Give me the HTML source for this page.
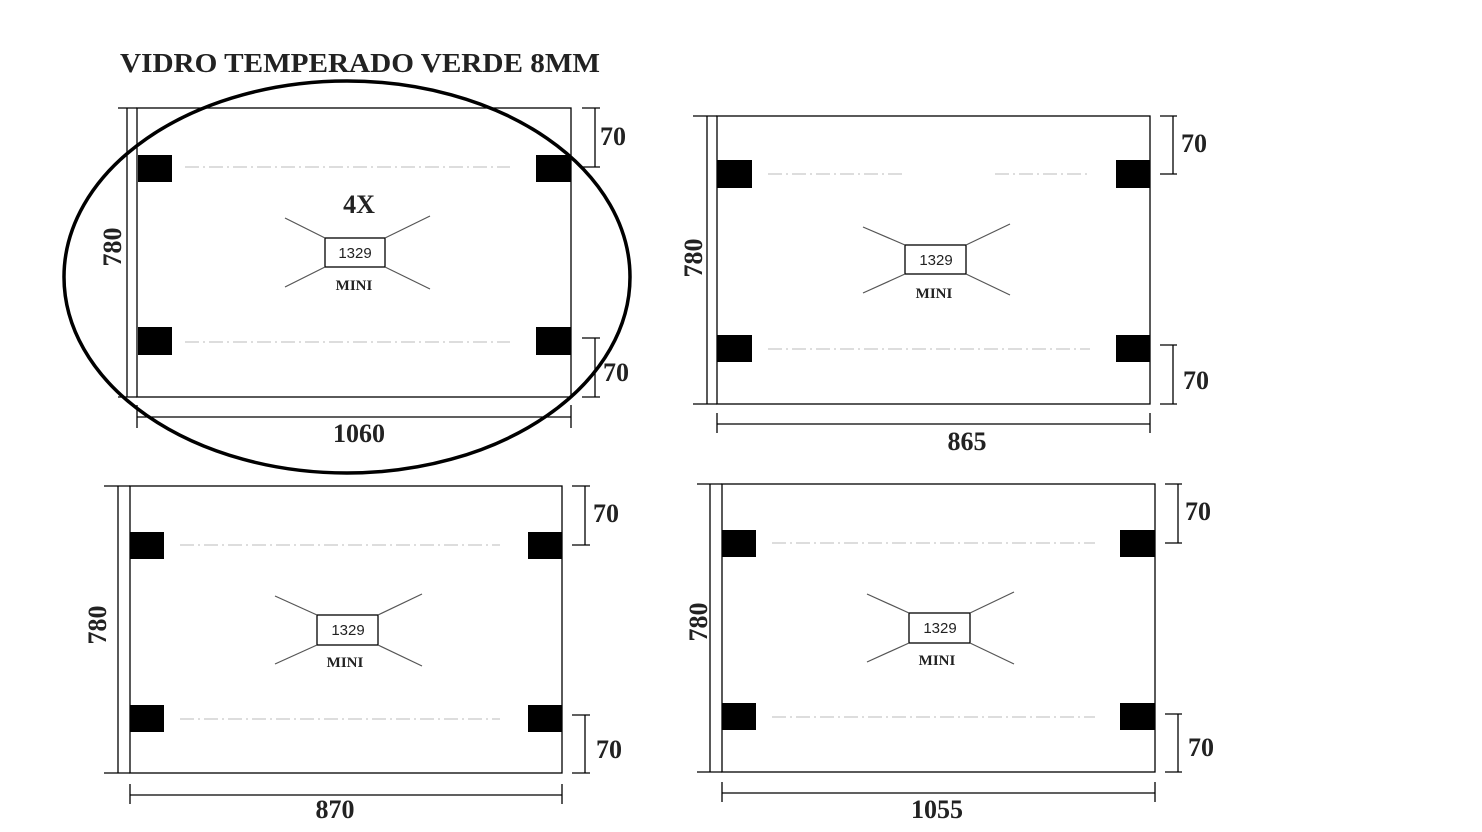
<!DOCTYPE html>
<html><head><meta charset="utf-8"><style>html,body{margin:0;padding:0;background:#fff}svg{display:block}</style></head>
<body>
<svg width="1482" height="832" viewBox="0 0 1482 832" xmlns="http://www.w3.org/2000/svg" font-family="Liberation Serif, serif">
<rect width="1482" height="832" fill="#fff"/>
<text x="120" y="72" font-size="27" font-weight="bold" fill="#222" textLength="480" lengthAdjust="spacingAndGlyphs">VIDRO TEMPERADO VERDE 8MM</text>

<g stroke="#000" stroke-width="1.3" fill="none">
<!-- panel 1 -->
<rect x="137" y="108" width="434" height="289"/>
<line x1="127" y1="108" x2="127" y2="397"/><line x1="118" y1="108" x2="137" y2="108"/><line x1="118" y1="397" x2="137" y2="397"/>
<line x1="137" y1="417" x2="571" y2="417"/><line x1="137" y1="405" x2="137" y2="428"/><line x1="571" y1="405" x2="571" y2="428"/>
<line x1="595" y1="108" x2="595" y2="167"/><line x1="582" y1="108" x2="600" y2="108"/><line x1="582" y1="167" x2="600" y2="167"/>
<line x1="595" y1="338" x2="595" y2="397"/><line x1="582" y1="338" x2="600" y2="338"/><line x1="582" y1="397" x2="600" y2="397"/>
<rect x="325" y="238" width="60" height="29"/>
<!-- panel 2 -->
<rect x="717" y="116" width="433" height="288"/>
<line x1="707" y1="116" x2="707" y2="404"/><line x1="693" y1="116" x2="717" y2="116"/><line x1="693" y1="404" x2="717" y2="404"/>
<line x1="717" y1="424" x2="1150" y2="424"/><line x1="717" y1="413" x2="717" y2="433"/><line x1="1150" y1="413" x2="1150" y2="433"/>
<line x1="1173" y1="116" x2="1173" y2="174"/><line x1="1160" y1="116" x2="1177" y2="116"/><line x1="1160" y1="174" x2="1177" y2="174"/>
<line x1="1173" y1="345" x2="1173" y2="404"/><line x1="1160" y1="345" x2="1177" y2="345"/><line x1="1160" y1="404" x2="1177" y2="404"/>
<rect x="905" y="245" width="61" height="29"/>
<!-- panel 3 -->
<rect x="130" y="486" width="432" height="287"/>
<line x1="118" y1="486" x2="118" y2="773"/><line x1="104" y1="486" x2="130" y2="486"/><line x1="104" y1="773" x2="130" y2="773"/>
<line x1="130" y1="795" x2="562" y2="795"/><line x1="130" y1="784" x2="130" y2="804"/><line x1="562" y1="784" x2="562" y2="804"/>
<line x1="585" y1="486" x2="585" y2="545"/><line x1="572" y1="486" x2="590" y2="486"/><line x1="572" y1="545" x2="590" y2="545"/>
<line x1="585" y1="715" x2="585" y2="773"/><line x1="572" y1="715" x2="590" y2="715"/><line x1="572" y1="773" x2="590" y2="773"/>
<rect x="317" y="615" width="61" height="30"/>
<!-- panel 4 -->
<rect x="722" y="484" width="433" height="288"/>
<line x1="710" y1="484" x2="710" y2="772"/><line x1="697" y1="484" x2="722" y2="484"/><line x1="697" y1="772" x2="722" y2="772"/>
<line x1="722" y1="793" x2="1155" y2="793"/><line x1="722" y1="782" x2="722" y2="802"/><line x1="1155" y1="782" x2="1155" y2="802"/>
<line x1="1178" y1="484" x2="1178" y2="543"/><line x1="1165" y1="484" x2="1182" y2="484"/><line x1="1165" y1="543" x2="1182" y2="543"/>
<line x1="1178" y1="714" x2="1178" y2="772"/><line x1="1165" y1="714" x2="1182" y2="714"/><line x1="1165" y1="772" x2="1182" y2="772"/>
<rect x="909" y="613" width="61" height="30"/>
</g>

<g stroke="#555" stroke-width="1.2">
<line x1="285" y1="218" x2="325" y2="238"/><line x1="430" y1="216" x2="385" y2="238"/><line x1="285" y1="287" x2="325" y2="267"/><line x1="430" y1="289" x2="385" y2="267"/>
<line x1="863" y1="227" x2="905" y2="245"/><line x1="1010" y1="224" x2="966" y2="245"/><line x1="863" y1="293" x2="905" y2="274"/><line x1="1010" y1="295" x2="966" y2="274"/>
<line x1="275" y1="596" x2="317" y2="615"/><line x1="422" y1="594" x2="378" y2="615"/><line x1="275" y1="664" x2="317" y2="645"/><line x1="422" y1="666" x2="378" y2="645"/>
<line x1="867" y1="594" x2="909" y2="613"/><line x1="1014" y1="592" x2="970" y2="613"/><line x1="867" y1="662" x2="909" y2="643"/><line x1="1014" y1="664" x2="970" y2="643"/>
</g>

<g stroke="#bbb" stroke-width="1" stroke-dasharray="14 4 2 4">
<line x1="185" y1="167" x2="510" y2="167"/><line x1="185" y1="342" x2="510" y2="342"/>
<line x1="768" y1="174" x2="905" y2="174"/><line x1="995" y1="174" x2="1087" y2="174"/><line x1="768" y1="349" x2="1090" y2="349"/>
<line x1="180" y1="545" x2="500" y2="545"/><line x1="180" y1="719" x2="500" y2="719"/>
<line x1="772" y1="543" x2="1095" y2="543"/><line x1="772" y1="717" x2="1095" y2="717"/>
</g>

<g fill="#000">
<rect x="138" y="155" width="34" height="27"/><rect x="536" y="155" width="35" height="27"/><rect x="138" y="327" width="34" height="28"/><rect x="536" y="327" width="35" height="28"/>
<rect x="717" y="160" width="35" height="28"/><rect x="1116" y="160" width="34" height="28"/><rect x="717" y="335" width="35" height="27"/><rect x="1116" y="335" width="34" height="27"/>
<rect x="130" y="532" width="34" height="27"/><rect x="528" y="532" width="34" height="27"/><rect x="130" y="705" width="34" height="27"/><rect x="528" y="705" width="34" height="27"/>
<rect x="722" y="530" width="34" height="27"/><rect x="1120" y="530" width="35" height="27"/><rect x="722" y="703" width="34" height="27"/><rect x="1120" y="703" width="35" height="27"/>
</g>

<ellipse cx="347" cy="277" rx="283" ry="196" fill="none" stroke="#000" stroke-width="3.5"/>

<g font-weight="bold" fill="#222" font-size="26" text-anchor="middle">
<text x="359" y="442">1060</text><text x="967" y="450">865</text><text x="335" y="818">870</text><text x="937" y="818">1055</text>
<text x="359" y="213">4X</text>
<g text-anchor="start"><text x="600" y="145">70</text><text x="603" y="381">70</text>
<text x="1181" y="152">70</text><text x="1183" y="389">70</text>
<text x="593" y="522">70</text><text x="596" y="758">70</text>
<text x="1185" y="520">70</text><text x="1188" y="756">70</text></g>
<text transform="translate(112,247) rotate(-90)" dy="9">780</text>
<text transform="translate(693,258) rotate(-90)" dy="9">780</text>
<text transform="translate(97,625) rotate(-90)" dy="9">780</text>
<text transform="translate(698,622) rotate(-90)" dy="9">780</text>
</g>
<g font-weight="bold" fill="#222" font-size="15" text-anchor="middle">
<text x="354" y="290">MINI</text><text x="934" y="298">MINI</text><text x="345" y="667">MINI</text><text x="937" y="665">MINI</text>
</g>
<g font-family="Liberation Sans, sans-serif" fill="#222" font-size="15" text-anchor="middle">
<text x="355" y="258">1329</text><text x="936" y="265">1329</text><text x="348" y="635">1329</text><text x="940" y="633">1329</text>
</g>
</svg>
</body></html>
